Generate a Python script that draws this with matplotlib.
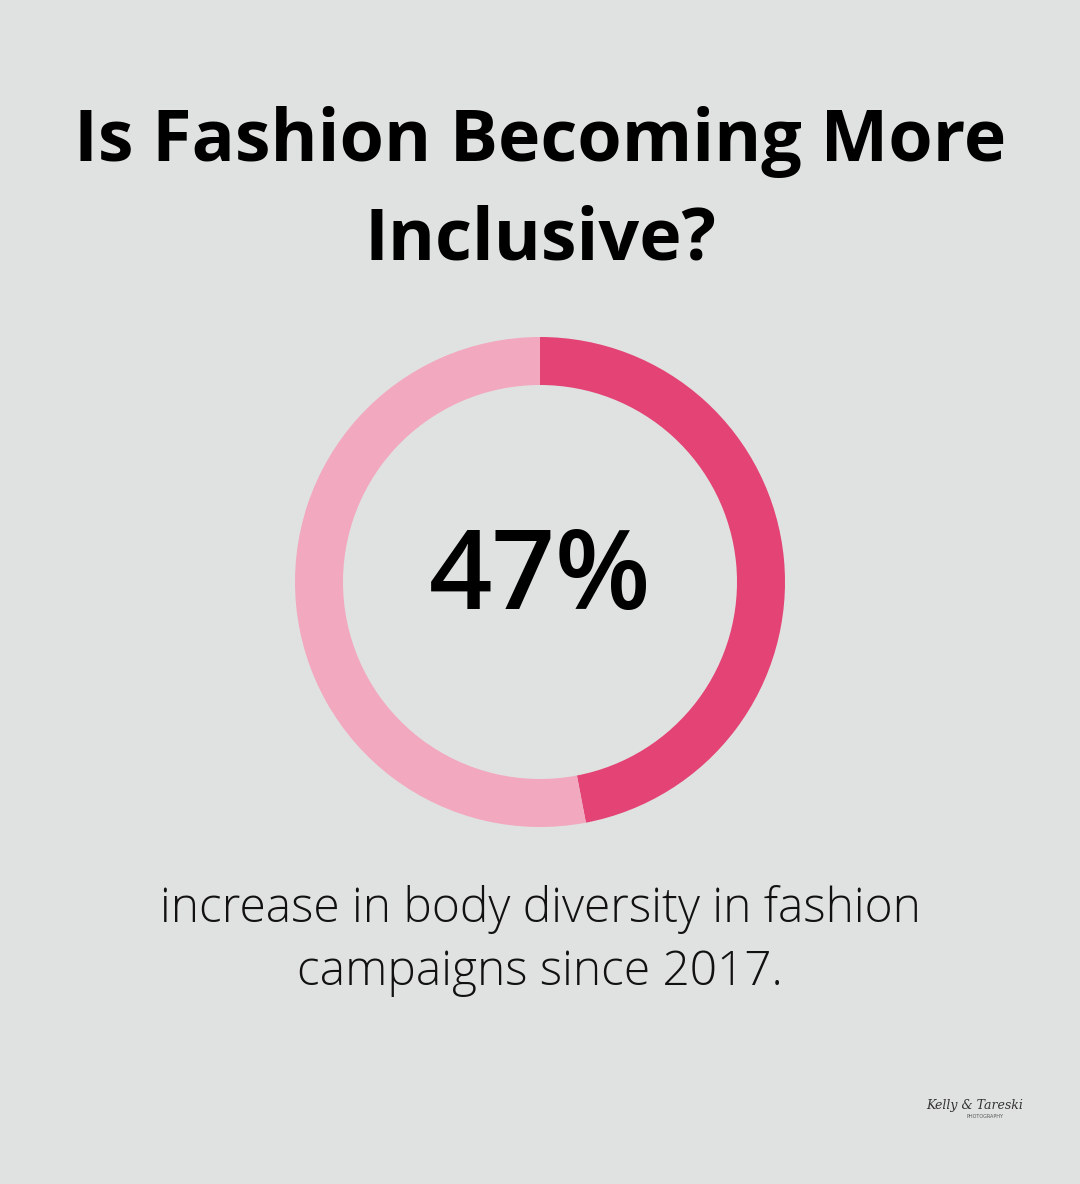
import matplotlib
matplotlib.use("Agg")
import matplotlib.pyplot as plt
from matplotlib.patches import Wedge

title_lines = ["Is Fashion Becoming More", "Inclusive?"]
value_pct = 47
value_label = "47%"
caption_lines = ["increase in body diversity in fashion", "campaigns since 2017."]
colors = ["#E44375", "#F2A8BF"]
bg = "#E0E2E1"

W, H = 1080, 1184
fig = plt.figure(figsize=(W / 100, H / 100), dpi=100, facecolor=bg)
ax = fig.add_axes([0, 0, 1, 1])
ax.set_xlim(0, W)
ax.set_ylim(H, 0)
ax.set_aspect("equal")
ax.axis("off")
ax.set_facecolor(bg)

cx, cy, r_out, width = 540, 582, 245, 48
start = -90
end = start + value_pct / 100 * 360
ax.add_patch(Wedge((cx, cy), r_out, start, end, width=width, facecolor=colors[0], edgecolor="none"))
ax.add_patch(Wedge((cx, cy), r_out, end, start + 360, width=width, facecolor=colors[1], edgecolor="none"))

font = "Open Sans"
ax.text(540, 142, title_lines[0], ha="center", va="center", fontsize=51.7, fontweight="bold",
        family=font, color="#000000")
ax.text(540, 240, title_lines[1], ha="center", va="center", fontsize=51.7, fontweight="bold",
        family=font, color="#000000")

ax.text(540, 580, value_label, ha="center", va="center", fontsize=80, fontweight="semibold",
        family=font, color="#000000")

ax.text(540, 909, caption_lines[0], ha="center", va="center", fontsize=34.5, fontweight="light",
        family=font, color="#111111")
ax.text(540, 973, caption_lines[1], ha="center", va="center", fontsize=34.5, fontweight="light",
        family=font, color="#111111")

ax.text(975, 1105, "Kelly & Tareski", ha="center", va="center", fontsize=9, style="italic",
        family="DejaVu Serif", color="#333333")
ax.text(985, 1117, "PHOTOGRAPHY", ha="center", va="center", fontsize=3.5,
        family="DejaVu Sans", color="#555555")

fig.savefig("out.png", dpi=100, facecolor=bg)
